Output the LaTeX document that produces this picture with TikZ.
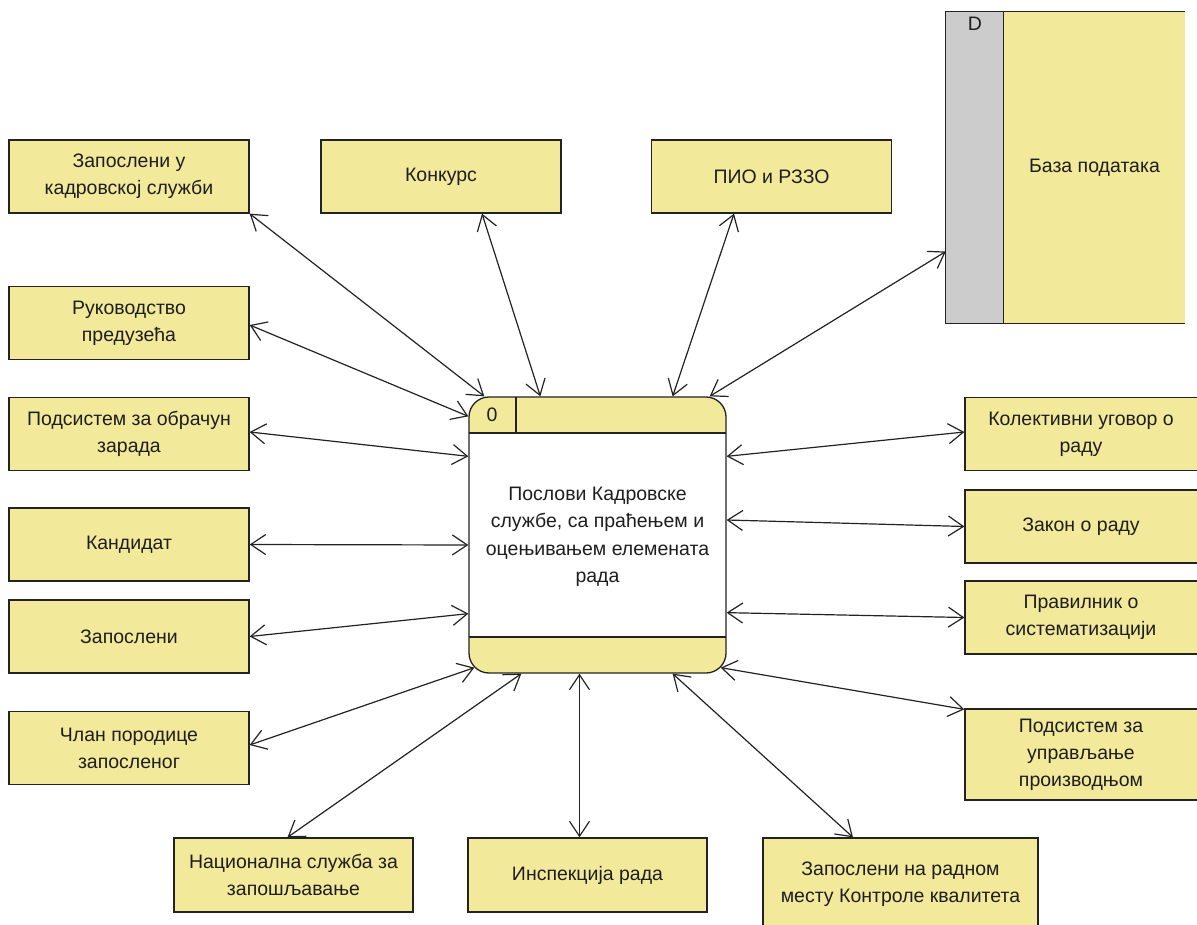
\documentclass[tikz,border=0pt]{standalone}
\usepackage{fontspec}
\setmainfont{Liberation Sans}
\usetikzlibrary{arrows.meta,calc}
\definecolor{boxfill}{RGB}{243,233,155}
\definecolor{dsgray}{RGB}{204,204,204}
\definecolor{linec}{RGB}{35,35,35}
\definecolor{txt}{RGB}{30,30,30}
\tikzset{
  ext/.style={draw=linec, line width=1.3pt, fill=boxfill, minimum width=240pt, minimum height=73pt, inner sep=0pt, align=center, text=txt, font=\fontsize{19.5}{27}\selectfont},
  flow/.style={draw=linec, line width=1.2pt, {Straight Barb[length=15pt,width=20pt]}-{Straight Barb[length=15pt,width=20pt]}},
  lbl/.style={text=txt, font=\fontsize{19.5}{27.5}\selectfont, align=center, inner sep=0pt}
}
\begin{document}
\begin{tikzpicture}[x=1pt,y=1pt]
\useasboundingbox (0,0) rectangle (1197,-925);
\fill[white] (0,0) rectangle (1197,-925);

% left column
\node[ext] (K1) at (129,-176.5) {Запослени у\\кадровској служби};
\node[ext] (K2) at (129,-323) {Руководство\\предузећа};
\node[ext] (K3) at (129,-434) {Подсистем за обрачун\\зарада};
\node[ext] (K4) at (129,-544.5) {Кандидат};
\node[ext] (K5) at (129,-636.5) {Запослени};
\node[ext] (K6) at (129,-748) {Члан породице\\запосленог};

% top
\node[ext] (T1) at (441,-176.5) {Конкурс};
\node[ext] (T2) at (771.5,-176.5) {ПИО и РЗЗО};

% right column
\node[ext] (R1) at (1085,-434) {\hspace*{-8pt}Колективни уговор о\\\hspace*{-8pt}раду};
\node[ext] (R2) at (1085,-526.5) {\hspace*{-8pt}Закон о раду};
\node[ext] (R3) at (1085,-617.5) {\hspace*{-8pt}Правилник о\\\hspace*{-8pt}систематизацији};
\node[ext, minimum height=91pt] (R4) at (1085,-754.5) {\hspace*{-8pt}Подсистем за\\\hspace*{-8pt}управљање\\\hspace*{-8pt}производњом};

% bottom
\node[ext, minimum width=239pt, minimum height=74pt] (B1) at (293.5,-875) {Национална служба за\\запошљавање};
\node[ext, minimum width=239pt, minimum height=74pt] (B2) at (587.5,-875) {Инспекција рада};
\node[ext, minimum width=275pt, minimum height=92pt] (B3) at (900.5,-884) {Запослени на радном\\месту Контроле квалитета};

% data store
\node[fill=boxfill, minimum width=239pt, minimum height=311pt, inner sep=0pt] (DB) at (1065.5,-167.5) {};
\fill[dsgray] (DB.north west) rectangle ([xshift=58pt]DB.south west);
\draw[linec, line width=1.3pt] (DB.north east) -- (DB.north west) -- (DB.south west) -- (DB.south east);
\draw[linec, line width=1.3pt] ([xshift=58pt]DB.north west) -- ([xshift=58pt]DB.south west);
\node[lbl] (DBd) at (975,-24) {D};
\node[lbl] (DBt) at (1094.5,-168) {База података};

% process
\node[draw=linec, line width=1.3pt, fill=white, rounded corners=20pt, minimum width=257pt, minimum height=276pt, inner sep=0pt,
  path picture={
    \begin{scope}[sharp corners]
    \fill[boxfill] (path picture bounding box.north west) rectangle ([yshift=-36pt]path picture bounding box.north east);
    \fill[boxfill] (path picture bounding box.south west) rectangle ([yshift=36pt]path picture bounding box.south east);
    \draw[linec, line width=1.3pt] ([yshift=-36pt]path picture bounding box.north west) -- ([yshift=-36pt]path picture bounding box.north east);
    \draw[linec, line width=1.3pt] ([yshift=36pt]path picture bounding box.south west) -- ([yshift=36pt]path picture bounding box.south east);
    \draw[linec, line width=1.3pt] ([xshift=47pt]path picture bounding box.north west) -- ([xshift=47pt,yshift=-36pt]path picture bounding box.north west);
    \end{scope}
  }] (P) at (597.5,-535) {};
\node[lbl] (Ptxt) at (597.5,-537) {Послови Кадровске\\службе, са праћењем и\\оцењивањем елемената\\рада};
\node[lbl] (P0) at (492,-415) {0};

% connectors
\draw[flow] (K1.south east) -- ([xshift=16pt]P.north west);
\draw[flow] ([yshift=-2pt]K2.east) -- ([yshift=-20pt]P.north west);
\draw[flow] ([yshift=2pt]K3.east) -- ([yshift=-60pt]P.north west);
\draw[flow] (K4.east) -- ([yshift=-10pt]P.west);
\draw[flow] (K5.east) -- ([yshift=60pt]P.south west);
\draw[flow] ([yshift=3pt]K6.east) -- ([xshift=6pt,yshift=6pt]P.south west);
\draw[flow] ([xshift=-6pt]B1.north) -- ([xshift=53pt]P.south west);
\draw[flow] ([xshift=-8pt]B2.north) -- ([xshift=-18pt]P.south);
\draw[flow] ([xshift=-47.5pt]B3.north) -- ([xshift=-54pt]P.south east);
\draw[flow] ([yshift=-1pt]R4.north west) -- ([xshift=-6pt,yshift=6pt]P.south east);
\draw[flow] (R3.west) -- ([yshift=61pt]P.south east);
\draw[flow] (R2.west) -- ([yshift=15pt]P.east);
\draw[flow] ([yshift=2pt]R1.west) -- ([yshift=-60pt]P.north east);
\draw[flow] ([yshift=-84pt]DB.west) -- ([xshift=-17pt]P.north east);
\draw[flow] ([xshift=-37.5pt]T2.south) -- ([xshift=-54pt]P.north east);
\draw[flow] ([xshift=41pt]T1.south) -- ([xshift=72pt]P.north west);
\end{tikzpicture}
\end{document}
